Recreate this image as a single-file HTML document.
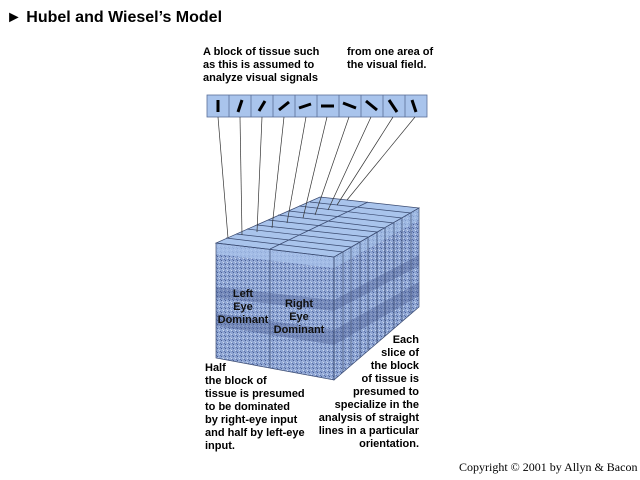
<!DOCTYPE html>
<html><head><style>
body{margin:0;width:640px;height:480px;background:#fff;overflow:hidden;position:relative;font-family:"Liberation Sans",Arial,sans-serif}
.t{position:absolute;font-weight:bold;font-size:11px;line-height:13px;color:#000}
</style></head><body>
<svg width="640" height="480" style="position:absolute;left:0;top:0">
<defs>
<pattern id="n" width="4" height="4" patternUnits="userSpaceOnUse">
<rect width="4" height="4" fill="#8ea5d3"/><rect x="1" y="0" width="1" height="1" fill="#4a5f96"/><rect x="3" y="2" width="1" height="1" fill="#c8d6ee"/><rect x="0" y="3" width="1" height="1" fill="#5d72a8"/><rect x="2" y="1" width="1" height="1" fill="#b0c2e4"/>
</pattern>
</defs>
<!-- strip -->
<rect x="207" y="95" width="220" height="22" fill="#a9c4ec" stroke="#5a6f99" stroke-width="0.8"/>
<g stroke="#5a6f99" stroke-width="0.8">
<line x1="229" y1="95" x2="229" y2="117"/><line x1="251" y1="95" x2="251" y2="117"/><line x1="273" y1="95" x2="273" y2="117"/><line x1="295" y1="95" x2="295" y2="117"/><line x1="317" y1="95" x2="317" y2="117"/><line x1="339" y1="95" x2="339" y2="117"/><line x1="361" y1="95" x2="361" y2="117"/><line x1="383" y1="95" x2="383" y2="117"/><line x1="405" y1="95" x2="405" y2="117"/>
</g>
<g stroke="#000" stroke-width="3">
<line x1="218" y1="100" x2="218" y2="112"/>
<line x1="238" y1="112" x2="242" y2="100"/>
<line x1="259" y1="111" x2="265" y2="101"/>
<line x1="279" y1="110" x2="289" y2="102"/>
<line x1="299" y1="108" x2="311" y2="104"/>
<line x1="321" y1="106" x2="334" y2="106"/>
<line x1="343" y1="103" x2="356" y2="108"/>
<line x1="366" y1="101" x2="377" y2="110"/>
<line x1="389" y1="100" x2="397" y2="112"/>
<line x1="412" y1="100" x2="416" y2="112"/>
</g>
<!-- right face -->
<polygon points="334,257 419,208 419,307 334,380" fill="url(#n)"/>
<!-- front face -->
<polygon points="216,243 334,257 334,380 216,358" fill="url(#n)"/>
<g fill="#45578c" opacity="0.35">
<polygon points="216,287 334,300 334,311 216,298"/>
<polygon points="216,313 334,330 334,345 216,326"/>
<polygon points="334,300 419,255 419,266 334,311"/>
<polygon points="334,330 419,282 419,296 334,345"/>
</g>
<polygon points="216,243 334,257 334,268 216,254" fill="#a9c4ec" opacity="0.75"/>
<polygon points="334,257 419,208 419,220 334,268" fill="#a9c4ec" opacity="0.6"/>
<!-- top face -->
<polygon points="216,243 334,257 419,208 320,197" fill="#a9c4ec" stroke="#3a4a70" stroke-width="0.7"/>
<g stroke="#3a4a70" stroke-width="0.7" fill="none">
<line x1="226" y1="238" x2="343" y2="252"/><line x1="236" y1="234" x2="351" y2="247"/><line x1="247" y1="229" x2="360" y2="242"/><line x1="257" y1="225" x2="368" y2="237"/><line x1="268" y1="220" x2="377" y2="232"/><line x1="278" y1="215" x2="385" y2="228"/><line x1="289" y1="211" x2="394" y2="223"/><line x1="299" y1="206" x2="402" y2="218"/><line x1="310" y1="202" x2="411" y2="213"/>
<line x1="270" y1="249" x2="368" y2="202"/>
<line x1="343" y1="252" x2="343" y2="372"/><line x1="351" y1="247" x2="351" y2="365"/><line x1="360" y1="242" x2="360" y2="358"/><line x1="368" y1="237" x2="368" y2="351"/><line x1="377" y1="232" x2="377" y2="343"/><line x1="385" y1="228" x2="385" y2="336"/><line x1="394" y1="223" x2="394" y2="328"/><line x1="402" y1="218" x2="402" y2="321"/><line x1="411" y1="213" x2="411" y2="314"/>
<line x1="270" y1="249" x2="270" y2="368"/>
<polygon points="216,243 334,257 334,380 216,358"/>
<polygon points="334,257 419,208 419,307 334,380"/>
</g>
<!-- connector lines -->
<g stroke="#333" stroke-width="0.7">
<line x1="218" y1="117" x2="228" y2="238"/>
<line x1="240" y1="117" x2="242" y2="235"/>
<line x1="262" y1="117" x2="257" y2="232"/>
<line x1="284" y1="117" x2="272" y2="228"/>
<line x1="306" y1="117" x2="287" y2="223"/>
<line x1="327" y1="117" x2="303" y2="218"/>
<line x1="349" y1="117" x2="315" y2="215"/>
<line x1="371" y1="117" x2="328" y2="210"/>
<line x1="393" y1="117" x2="337" y2="205"/>
<line x1="415" y1="117" x2="347" y2="200"/>
</g>
<g font-family="Liberation Sans,Arial,sans-serif" font-weight="bold" font-size="11" fill="#111" text-anchor="middle">
<text x="243" y="297">Left</text><text x="243" y="310">Eye</text><text x="243" y="323">Dominant</text>
<text x="299" y="307">Right</text><text x="299" y="320">Eye</text><text x="299" y="333">Dominant</text>
</g>
</svg>
<div class="t" style="left:6px;top:8px;font-size:16px;line-height:20px">&#9658; Hubel and Wiesel’s Model</div>
<div class="t" style="left:203px;top:46px">A block of tissue such<br>as this is assumed to<br>analyze visual signals</div>
<div class="t" style="left:347px;top:46px">from one area of<br>the visual field.</div>
<div class="t" style="left:205px;top:362px">Half<br>the block of<br>tissue is presumed<br>to be dominated<br>by right-eye input<br>and half by left-eye<br>input.</div>
<div class="t" style="left:300px;top:334px;width:119px;text-align:right">Each<br>slice of<br>the block<br>of tissue is<br>presumed to<br>specialize in the<br>analysis of straight<br>lines in a particular<br>orientation.</div>
<div style="position:absolute;left:459px;top:460px;font-family:'Liberation Serif',serif;font-size:12px">Copyright © 2001 by Allyn &amp; Bacon</div>
</body></html>
